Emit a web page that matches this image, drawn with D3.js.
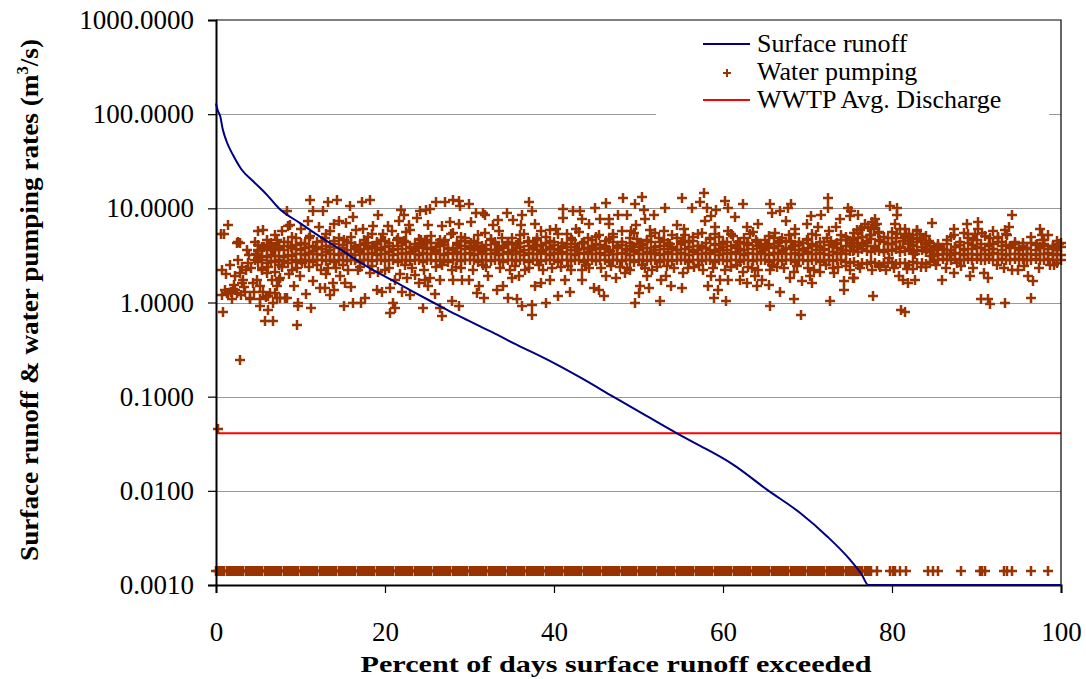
<!DOCTYPE html>
<html><head><meta charset="utf-8">
<script src="https://cdn.jsdelivr.net/npm/d3@7"></script>
<style>
html,body{margin:0;padding:0;background:#fff;}
svg{display:block;}
</style></head>
<body>
<svg id="chart" width="1086" height="679"></svg>
<script>
// ---------- DATA ----------
const xTicks = [0, 20, 40, 60, 80, 100];
const yTicks = [0.001, 0.01, 0.1, 1, 10, 100, 1000];

// Surface runoff flow-duration curve
const runoffPct = [0, 0.2, 0.5, 0.8, 1.3, 2.0, 3.0, 4.4, 6.0, 7.4, 9.9, 11.9, 14.7, 17.8, 21.8, 25.7, 27.5, 29.6, 31.2, 33.6, 35.2, 39.1, 43.1, 47.0, 51.0, 54.5, 57.3, 58.1, 61.2, 65.2, 69.1, 72.3, 75.0, 76.4, 77.2, 100];
const runoffVal = [130, 110, 95, 69, 50, 37, 26, 19.4, 14, 10.1, 7.0, 5.3, 3.66, 2.43, 1.55, 1.0, 0.82, 0.66, 0.56, 0.44, 0.37, 0.25, 0.16, 0.10, 0.062, 0.041, 0.030, 0.0275, 0.019, 0.0103, 0.00585, 0.0033, 0.00187, 0.0013, 0.001, 0.001];

// WWTP average discharge (constant)
const wwtpVal = 0.041;

// Water pumping: days with (near) zero pumping, plotted at the floor value
const pumpLowVal = 0.0014;
const pumpLowPct = [0,0.5,1,1.5,2,2.5,3,3.5,4,4.5,5,5.5,6,6.5,7,7.5,8,8.5,9,9.5,
10,10.5,11,11.5,12,12.5,13,13.5,14,14.5,15,15.5,16,16.5,17,17.5,18,18.5,19,19.5,
20,20.5,21,21.5,22,22.5,23,23.5,24,24.5,25,25.5,26,26.5,27,27.5,28,28.5,29,29.5,
30,30.5,31,31.5,32,32.5,33,33.5,34,34.5,35,35.5,36,36.5,37,37.5,38,38.5,39,39.5,
40,40.5,41,41.5,42,42.5,43,43.5,44,44.5,45,45.5,46,46.5,47,47.5,48,48.5,49,49.5,
50,50.5,51,51.5,52,52.5,53,53.5,54,54.5,55,55.5,56,56.5,57,57.5,58,58.5,59,59.5,
60,60.5,61,61.5,62,62.5,63,63.5,64,64.5,65,65.5,66,66.5,67,67.5,68,68.5,69,69.5,
70,70.5,71,71.5,72,72.5,73,73.5,74,74.5,75,75.5,76,76.5,77,77.5,
78.2,79.8,80.4,81.0,81.7,84.3,85.5,88.2,90.4,91.0,93.2,94.2,96.5,98.5];
const pumpLowPct2 = [0.25,0.75,1.25,1.75,2.25,2.75,3.25,3.75,4.25,4.75,5.25,5.75,6.25,6.75,7.25,7.75,8.25,8.75,9.25,9.75,
10.25,10.75,11.25,11.75,12.25,12.75,13.25,13.75,14.25,14.75,15.25,15.75,16.25,16.75,17.25,17.75,18.25,18.75,19.25,19.75,
20.25,20.75,21.25,21.75,22.25,22.75,23.25,23.75,24.25,24.75,25.25,25.75,26.25,26.75,27.25,27.75,28.25,28.75,29.25,29.75,
30.25,30.75,31.25,31.75,32.25,32.75,33.25,33.75,34.25,34.75,35.25,35.75,36.25,36.75,37.25,37.75,38.25,38.75,39.25,39.75,
40.25,40.75,41.25,41.75,42.25,42.75,43.25,43.75,44.25,44.75,45.25,45.75,46.25,46.75,47.25,47.75,48.25,48.75,49.25,49.75,
50.25,50.75,51.25,51.75,52.25,52.75,53.25,53.75,54.25,54.75,55.25,55.75,56.25,56.75,57.25,57.75,58.25,58.75,59.25,59.75,
60.25,60.75,61.25,61.75,62.25,62.75,63.25,63.75,64.25,64.75,65.25,65.75,66.25,66.75,67.25,67.75,68.25,68.75,69.25,69.75,
70.25,70.75,71.25,71.75,72.25,72.75,73.25,73.75,74.25,74.75,75.25,75.75,76.25,76.75,77.25,
80.1,84.9,90.7,93.6];

// Water pumping: the dense band around 3 m3/s (rows read across the band)
const bandPct = [5,5.5,6,6.5,7,7.5,8,8.5,9,9.5,
10,10.5,11,11.5,12,12.5,13,13.5,14,14.5,15,15.5,16,16.5,17,17.5,18,18.5,19,19.5,
20,20.5,21,21.5,22,22.5,23,23.5,24,24.5,25,25.5,26,26.5,27,27.5,28,28.5,29,29.5,
30,30.5,31,31.5,32,32.5,33,33.5,34,34.5,35,35.5,36,36.5,37,37.5,38,38.5,39,39.5,
40,40.5,41,41.5,42,42.5,43,43.5,44,44.5,45,45.5,46,46.5,47,47.5,48,48.5,49,49.5,
50,50.5,51,51.5,52,52.5,53,53.5,54,54.5,55,55.5,56,56.5,57,57.5,58,58.5,59,59.5,
60,60.5,61,61.5,62,62.5,63,63.5,64,64.5,65,65.5,66,66.5,67,67.5,68,68.5,69,69.5,
70,70.5,71,71.5,72,72.5,73,73.5,74,74.5,75,75.5,76,76.5,77,77.5,78,78.5,79,79.5,
80,80.5,81,81.5,82,82.5,83,83.5,84,84.5,85,85.5,86,86.5,87,87.5,88,88.5,89,89.5,
90,90.5,91,91.5,92,92.5,93,93.5,94,94.5,95,95.5,96,96.5,97,97.5,98,98.5,99,99.5,100];
const bandHi = [3.0,3.1,3.05,3.2,3.1,3.15,3.05,3.2,3.1,3.25,
3.3,3.2,3.35,3.25,3.3,3.2,3.4,3.25,3.3,3.2,
3.35,3.25,3.3,3.2,3.4,3.3,3.25,3.35,3.2,3.3,
3.3,3.4,3.2,3.3,3.35,3.25,3.4,3.3,3.2,3.35,
3.3,3.25,3.4,3.3,3.2,3.35,3.3,3.4,3.25,3.3,
3.35,3.2,3.3,3.4,3.25,3.3,3.35,3.2,3.3,3.4,
3.25,3.3,3.4,3.2,3.35,3.3,3.25,3.4,3.3,3.2,
3.35,3.3,3.4,3.25,3.3,3.2,3.35,3.3,3.4,3.25,
3.3,3.35,3.2,3.4,3.3,3.25,3.35,3.3,3.2,3.4,
3.3,3.25,3.4,3.3,3.35,3.2,3.3,3.4,3.25,3.3,
3.35,3.3,3.2,3.4,3.3,3.25,3.35,3.3,3.4,3.2,
3.3,3.35,3.25,3.4,3.3,3.2,3.35,3.3,3.25,3.4,
3.3,3.2,3.35,3.3,3.4,3.25,3.3,3.35,3.2,3.3,
3.4,3.3,3.25,3.35,3.3,3.2,3.4,3.3,3.35,3.25,
3.5,3.6,3.45,3.7,3.5,3.4,3.6,3.5,3.45,3.6,
3.5,3.7,3.45,3.55,3.6,3.4,3.5,3.65,3.45,3.5,
3.3,3.2,3.25,3.3,3.2,3.35,3.25,3.2,3.3,3.25,
3.2,3.3,3.25,3.2,3.35,3.25,3.3,3.2,3.25,3.3,
3.25,3.2,3.3,3.25,3.2,3.3,3.25,3.35,3.2,3.3,3.2];
const bandLo = [2.7,2.8,2.65,2.75,2.7,2.8,2.75,2.65,2.8,2.7,
2.8,2.75,2.85,2.7,2.8,2.85,2.75,2.8,2.7,2.85,
2.8,2.75,2.85,2.8,2.7,2.85,2.8,2.75,2.85,2.8,
2.75,2.85,2.8,2.7,2.85,2.8,2.75,2.85,2.8,2.7,
2.85,2.8,2.75,2.85,2.8,2.7,2.85,2.8,2.75,2.85,
2.8,2.85,2.7,2.8,2.85,2.75,2.8,2.85,2.7,2.8,
2.85,2.75,2.8,2.85,2.7,2.8,2.85,2.75,2.8,2.85,
2.8,2.7,2.85,2.8,2.75,2.85,2.8,2.7,2.85,2.8,
2.75,2.85,2.8,2.7,2.85,2.8,2.75,2.85,2.8,2.7,
2.85,2.8,2.75,2.85,2.8,2.7,2.85,2.8,2.75,2.85,
2.8,2.85,2.7,2.8,2.85,2.75,2.8,2.85,2.7,2.8,
2.85,2.75,2.8,2.85,2.7,2.8,2.85,2.75,2.8,2.85,
2.8,2.7,2.85,2.8,2.75,2.85,2.8,2.7,2.85,2.8,
2.75,2.85,2.8,2.7,2.85,2.8,2.75,2.85,2.8,2.7,
2.6,2.7,2.5,2.65,2.55,2.7,2.6,2.5,2.65,2.6,
2.7,2.55,2.65,2.6,2.5,2.7,2.6,2.65,2.55,2.7,
2.85,2.8,2.9,2.85,2.8,2.9,2.85,2.8,2.9,2.85,
2.9,2.85,2.8,2.9,2.85,2.8,2.9,2.85,2.8,2.9,
2.85,2.9,2.8,2.85,2.9,2.85,2.8,2.9,2.85,2.8,2.85];
const bandUpper = [4.1,3.7,4.6,3.9,5.2,3.8,4.4,4.0,5.0,3.7,
4.3,3.8,4.9,4.0,3.7,4.5,5.3,3.9,4.2,4.8,
3.8,4.4,5.0,3.7,4.1,4.6,3.9,5.4,4.2,3.8,
4.5,4.0,3.7,4.9,4.3,5.6,3.9,4.2,4.7,3.8,
4.4,5.1,3.9,4.6,4.1,3.7,5.5,4.3,4.0,4.8,
3.8,4.5,5.2,4.0,3.7,4.7,4.2,5.8,3.9,4.4,
4.9,3.8,4.3,5.3,4.0,3.7,4.6,4.1,5.0,3.9,
4.4,5.4,3.8,4.2,4.8,3.9,5.6,4.3,3.7,4.6,
5.0,4.1,3.8,4.7,5.3,4.0,4.4,3.7,4.9,5.5,
4.2,3.8,4.6,5.1,3.9,4.4,5.7,4.0,3.7,4.8,
4.3,5.2,3.9,4.5,4.0,5.5,3.8,4.7,4.2,5.0,
3.9,4.4,5.3,4.1,3.7,4.8,4.3,5.6,4.0,3.8,
4.6,5.1,3.9,4.3,4.9,3.8,4.5,5.4,4.1,3.7,
4.7,4.2,5.2,3.9,4.4,5.8,4.0,3.8,4.6,5.0,
4.3,5.5,4.8,6.2,4.0,5.2,6.6,4.5,5.0,4.2,
5.6,4.4,6.0,4.9,5.3,4.1,5.8,4.6,5.1,4.3,
3.8,4.2,3.7,4.6,5.0,3.9,4.4,3.7,5.3,4.1,
4.6,3.8,5.1,4.2,3.7,4.8,4.0,5.4,3.9,4.4,
3.8,4.3,3.7,5.0,4.1,3.8,4.6,5.2,4.0,3.7,4.3];
const bandUpper2 = [3.5,3.9,3.6,4.3,3.7,4.0,3.6,4.4,3.8,4.1,
3.6,4.2,3.9,3.5,4.4,3.7,4.0,3.6,4.5,3.8,
4.1,3.6,4.3,3.9,3.5,4.2,3.7,4.0,4.4,3.6,
3.9,4.3,3.6,4.0,3.7,4.4,3.8,3.6,4.2,4.0,
3.7,4.3,3.6,4.0,4.4,3.8,3.6,4.1,4.5,3.7,
4.0,3.6,4.3,3.8,4.1,3.6,4.4,3.7,4.0,4.2,
3.6,4.1,3.9,3.6,4.4,3.8,4.0,3.6,4.3,3.7,
4.1,3.6,4.3,3.9,3.6,4.2,3.7,4.4,3.8,3.6,
4.2,3.7,4.0,3.6,4.4,3.8,4.1,3.6,4.3,3.9,
3.6,4.1,3.8,4.4,3.6,4.0,3.7,4.3,3.9,3.6,
4.2,3.7,4.4,3.6,4.0,3.8,4.3,3.6,4.1,3.7,
4.4,3.6,4.0,3.8,4.3,3.6,4.1,3.7,4.4,3.9,
3.6,4.2,3.8,4.0,3.6,4.4,3.7,4.1,3.6,4.3,
3.8,4.0,3.6,4.4,3.7,4.1,3.9,4.3,3.6,4.0,
4.0,4.6,3.9,5.0,4.3,4.7,3.8,5.6,4.4,4.9,
4.2,4.8,3.9,5.1,4.5,4.0,4.7,3.9,4.3,4.0,
3.6,4.0,3.7,4.2,3.6,3.9,4.1,3.6,4.3,3.7,
3.9,4.2,3.6,4.0,3.7,4.4,3.6,4.1,3.8,4.2,
3.6,4.0,3.8,4.3,3.6,3.9,4.2,3.7,4.0,3.6,3.9];

// Water pumping: scattered days [percent, m3/s]
const pumpPts = [
[0.28,0.045],[0.75,2.24],[0.67,1.19],[0.79,0.79],[0.64,5.3],[0.95,5.3],[1.46,6.6],[1.07,1.37],[1.66,2.53],[1.46,1.22],
[2.25,1.37],[2.05,1.4],[2.44,4.3],[2.64,4.34],[2.84,4.3],[2.64,2.86],[3.04,2.4],[2.84,2.07],[3.04,1.6],[2.44,1.25],
[2.84,0.248],[3.23,1.75],[3.63,3.65],[4.02,1.08],[4.02,1.13],[5.0,5.7],[5.6,5.95],[4.61,4.34],[5.0,3.65],[4.61,2.86],
[4.8,1.75],[5.2,1.49],[5.2,0.91],[5.2,1.08],[5.8,0.63],[6.8,0.63],[6.2,1.17],[6.2,0.84],[6.4,1.25],[6.0,2.07],
[6.6,1.75],[7.2,1.13],[7.2,1.5],[7.8,5.7],[8.75,6.7],[8.4,9.3],[7.4,1.75],[8.2,1.13],[7.6,1.13],[8.4,1.13],
[7.6,1.8],[9.75,0.91],[9.55,0.57],[9.94,1.9],[9.7,1.0],[8.5,6.45],[3.4,1.3],[4.2,2.3],[3.8,2.6],[1.2,2.0],
[1.9,1.1],[2.3,1.9],[1.3,1.25],[1.8,1.3],[2.1,1.55],[2.9,1.2],[3.3,1.45],[3.6,2.2],[4.4,1.6],[4.5,1.3],
[5.6,1.3],[5.9,1.15],[6.7,1.0],[7.0,1.25],[5.4,2.2],[6.2,2.4],[7.0,2.1],[7.8,2.4],[8.6,2.0],[9.2,1.5],
[9.6,2.3],[8.9,3.9],[9.5,4.8],[6.3,4.1],[7.2,4.6],[6.8,3.6],[5.7,3.9],[4.7,3.3],[3.9,3.2],
[10.7,1.22],[11.3,0.88],[11.1,12.2],[11.5,9.3],[12.7,9.3],[13.3,11.6],[14.3,12.2],[14.5,7.3],[15.9,10.7],[17.3,11.6],
[18.2,12.2],[19.2,8.6],[12.3,1.44],[12.9,1.44],[11.1,5.05],[13.5,5.7],[12.9,4.9],[15.1,4.66],[14.7,1.9],[15.1,0.91],
[16.2,1.0],[17.2,1.0],[17.6,1.13],[16.6,5.95],[17.4,6.1],[18.6,6.5],[18.2,2.07],[19.0,1.37],[19.6,1.3],[20.6,1.44],
[20.6,0.78],[21.2,0.88],[21.0,1.0],[20.4,6.5],[20.8,5.7],[21.9,9.6],[22.2,8.6],[21.6,7.3],[23.0,5.95],[23.5,1.98],
[24.5,0.88],[24.1,9.3],[24.9,9.6],[21.4,4.66],[22.2,4.5],[21.2,1.75],
[10.5,4.2],[11.8,3.9],[12.4,2.2],[13.0,2.0],[13.8,1.6],[14.2,2.3],[15.6,2.2],[16.4,4.0],[16.9,3.7],[17.8,4.3],
[18.8,3.8],[19.5,4.6],[20.0,2.2],[21.8,2.0],[22.6,1.8],[23.2,2.3],[23.8,3.9],[24.3,4.6],[10.2,2.6],[11.5,1.7],
[12.0,2.5],[13.5,1.2],[14.0,1.35],[15.3,1.6],[16.0,1.45],[17.0,2.4],[19.2,2.1],[22.0,1.3],[23.0,1.2],[24.0,1.6],
[10.0,6.0],[10.9,7.4],[12.2,6.3],[14.0,6.9],[15.4,7.0],[16.2,8.0],[18.0,5.0],[19.8,5.3],[22.8,6.6],[23.8,7.8],
[26.0,11.6],[27.1,11.6],[28.1,12.4],[28.7,12],[28.9,10.7],[29.9,11],[25.3,9.9],[30.8,8.96],[31.8,8.6],[34.4,8.96],
[36.2,8.6],[37.0,11.6],[37.4,9.3],[41.1,9.9],[42.3,9.3],[43.1,9.3],[44.9,10],[46.2,11.3],[48.2,12.9],[50.4,13.3],
[49.6,11],[47.6,8.6],[48.6,8.6],[41.1,7.9],[43.3,7.7],[45.4,7.7],[46.5,7.7],[26.7,6.45],[25.1,6.6],[27.7,7.2],
[28.7,6.9],[30.2,7.2],[31.6,9],[32.8,6.6],[33.4,7.6],[35.1,7.6],[36.1,6.6],[37.7,6.9],[39.5,5.95],[38.5,5.7],
[40.2,6.1],[42.6,6.1],[44.1,6.9],[46.5,6.9],[48.1,5.7],[49.1,5.7],[49.7,6.6],
[26.3,4.3],[27.1,4.66],[29.5,4.5],[30.2,4.3],[31.8,5.5],[33.8,4.9],[34.6,4.2],[35.7,4.3],[36.9,4.5],[37.7,4.0],
[39.5,4.5],[40.9,4.0],[42.1,4.66],[43.3,4.3],[44.5,4.0],[45.3,5.2],[46.1,4.5],[47.6,4.0],[49.2,4.0],[50.3,4.2],
[24.7,4.66],[25.5,3.8],[28.5,3.8],[31.3,3.65],[33.2,3.65],[35.2,3.5],[38.7,3.65],[42.7,3.65],[46.6,3.5],[48.6,3.65],
[27.8,5.3],[29.0,5.0],[32.5,4.6],[36.0,5.2],[38.0,4.8],[41.5,5.4],[44.0,4.8],[47.0,5.0],[49.8,4.7],[30.8,4.0],
[34.0,3.8],[40.0,3.7],[45.0,3.8],
[25.3,1.83],[26.5,1.75],[27.9,2.24],[28.1,1.75],[29.1,1.75],[29.9,1.75],[30.9,1.27],[31.7,1.13],[32.2,1.93],[33.2,1.37],
[34.0,1.49],[34.6,1.13],[35.0,1.83],[35.8,1.93],[35.6,1.08],[36.2,0.91],[37.4,0.95],[37.4,0.745],[37.7,1.49],[38.5,1.6],
[38.7,2.24],[39.5,1.75],[39.1,1.0],[40.5,1.17],[41.3,1.75],[41.9,1.3],[43.3,2.24],[43.3,1.75],[44.7,1.44],[45.3,1.37],
[45.9,1.17],[46.1,1.93],[47.3,1.83],[48.4,2.07],[49.6,1.0],[50.0,1.27],[25.9,1.22],[26.5,0.88],[26.7,0.715],[27.9,1.05],
[28.7,0.91],[24.7,1.75],[25.1,1.49],[31.1,1.49],
[26.0,2.4],[29.0,2.3],[32.0,2.4],[34.8,2.2],[37.0,2.3],[40.8,2.4],[42.0,2.2],[44.2,2.3],[47.8,2.4],[49.0,2.2],
[50.6,9.6],[50.8,7.7],[51.8,8.6],[53.1,10],[55.1,12.9],[56.3,10],[57.3,11.6],[57.7,14.6],[58.1,10],[57.9,7.3],
[59.2,9.6],[60.2,11.9],[60.6,10],[62.4,11.2],[58.6,8.3],[61.4,8],[65.6,11.2],[65.8,9],[66.7,9.3],[67.7,10],
[68.1,11.2],[67.5,7.3],[68.5,6.1],[70.4,8.3],[71.6,8.6],[72.4,12.9],[72.4,10],[73.8,7.7],[74.8,10],[75.0,8.3],
[51.4,5.95],[54.6,6.6],[55.4,6.1],[59.0,6.3],[60.6,5.7],[62.8,6.3],[64.2,6.9],[66.2,5.5],[69.9,6.9],[71.3,6.3],
[73.4,6.3],[75.8,5.95],
[51.0,4.5],[52.4,4.9],[53.7,4.2],[55.3,4.5],[56.5,5.0],[57.5,4.0],[58.5,4.9],[60.0,4.2],[61.2,5.05],[62.8,4.2],
[63.9,4.66],[65.2,4.0],[66.7,4.5],[68.3,4.0],[69.9,4.66],[71.1,4.0],[72.3,4.9],[73.4,4.2],[74.7,4.66],[75.8,4.3],
[51.8,3.6],[54.5,3.6],[57.1,3.6],[59.6,3.6],[62.0,3.6],[64.8,3.6],[67.1,3.6],[69.5,3.6],[71.9,3.6],[74.2,3.6],
[52.0,5.5],[53.0,4.6],[54.0,5.2],[56.0,4.4],[57.0,5.4],[59.0,5.3],[61.8,4.4],[63.2,5.3],[64.5,4.2],[66.0,4.8],
[67.8,5.2],[69.0,4.4],[70.5,5.3],[72.8,4.5],[74.0,5.2],[75.3,4.0],
[50.2,1.49],[51.2,1.44],[51.0,1.9],[52.6,1.03],[52.7,1.75],[53.3,1.9],[53.9,1.49],[55.1,1.44],[55.3,2.07],[58.2,1.49],
[58.6,1.9],[58.9,1.13],[59.4,1.37],[59.6,1.75],[60.4,1.03],[60.6,1.75],[62.0,1.75],[62.4,2.13],[62.8,1.6],[63.8,1.9],
[64.0,1.49],[64.6,1.75],[65.4,1.55],[65.6,2.24],[65.6,0.91],[66.7,1.3],[67.9,1.83],[68.4,1.08],[68.4,2.13],[69.2,0.745],
[69.4,1.7],[70.3,1.9],[70.5,1.6],[71.5,2.13],[72.7,1.05],[73.1,2.07],[74.3,1.37],[74.3,1.7],[75.5,1.83],
[50.8,2.3],[52.2,2.4],[54.2,2.3],[56.6,2.4],[57.6,2.2],[61.0,2.4],[63.4,2.3],[66.4,2.4],[70.0,2.3],[73.6,2.4],[75.0,2.2],
[75.2,9.3],[76.0,8.6],[79.8,10.7],[80.6,10],[80.6,8.6],[80.4,6.9],[84.7,7.0],[87.3,6.1],[87.3,5.2],[88.9,6.9],
[90.2,7.2],[90.2,6.0],[89.6,4.66],[92.0,5.7],[93.4,5.95],[93.8,6.3],[94.2,8.6],[92.0,4.2],[97.5,6.1],[97.7,5.2],
[97.9,4.66],[99.5,4.5],
[77.6,7.2],[78.0,7.7],[78.2,6.9],[77.2,6.4],[76.2,5.95],[75.4,4.9],[75.8,4.0],[75.4,3.5],[76.6,4.2],[77.4,5.2],
[78.6,4.66],[79.0,3.6],[79.6,3.0],[80.6,5.4],[81.3,4.5],[81.9,4.2],[82.5,5.2],[82.9,5.95],[83.3,5.4],[83.5,4.9],
[83.9,4.2],[84.1,3.7],[81.7,5.4],[82.1,3.7],[82.7,3.3],[84.7,3.1],[85.3,3.8],[86.1,3.6],[86.9,3.3],
[76.8,6.8],[77.9,6.0],[78.4,5.5],[76.4,5.0],[77.0,4.5],[78.0,4.0],[80.0,4.2],[80.9,3.8],[81.5,6.0],[82.2,4.8],
[83.0,4.4],[84.4,4.5],[88.5,5.5],[89.0,4.9],[89.8,5.3],[90.6,5.5],[91.6,4.8],[92.6,5.0],[93.0,4.4],[93.6,5.2],
[94.0,4.0],[97.2,4.2],[98.0,4.0],[99.0,3.8],[99.8,4.2],
[75.4,1.8],[77.8,1.17],[79.1,2.6],[79.3,2.2],[80.8,1.9],[81.3,1.75],[81.9,1.6],[82.5,2.25],[82.7,1.75],[81.1,0.84],
[81.5,0.8],[85.9,1.75],[87.3,2.07],[87.7,2.6],[89.2,1.93],[90.9,2.07],[91.4,1.83],[90.5,1.08],[91.4,1.08],[91.6,0.96],
[93.4,1.0],[94.2,2.24],[94.9,2.24],[96.1,1.9],[96.7,1.7],[96.4,1.13],[98.7,2.5],[99.5,2.6],[84.0,2.4],[78.6,2.4],
[5.5,2.3],[7.5,2.5],[9.0,2.2],[11,2.4],[13.2,2.3],[15,2.5],[16.8,2.2],[18.5,2.45],[20.5,2.3],[22.4,2.5],
[24.6,2.2],[26.8,2.5],[28.4,2.4],[30.4,2.2],[31.6,2.5],[33.6,2.3],[35.4,2.45],[36.6,2.2],[38.2,2.5],[39.8,2.3],
[41.6,2.45],[43.8,2.5],[45.6,2.3],[46.8,2.45],[48.6,2.3],[50.4,2.5],[51.6,2.2],[53.4,2.45],[55.8,2.3],[57.2,2.5],
[58.8,2.3],[60.2,2.2],[61.6,2.5],[63.0,2.4],[64.2,2.2],[65.8,2.5],[67.2,2.3],[68.8,2.45],[70.8,2.2],[72.2,2.5],
[73.0,2.3],[74.6,2.45],[76.2,2.3],[77.6,2.2],[80.2,2.35],[81.8,2.25],[83.4,2.4],[85.2,2.5],[86.4,2.35],[88.2,2.45],
[89.6,2.3],[92.4,2.5],[93.2,2.35],[95.6,2.45],[97.4,2.3],[99.2,2.5]
];

const legendLabels = ["Surface runoff", "Water pumping", "WWTP Avg. Discharge"];
const xTitle = "Percent of days surface runoff exceeded";

// ---------- DRAWING ----------
const FONT = "'Liberation Serif'";
const svg = d3.select("#chart");
const M = {left: 216, right: 1061, top: 20, bottom: 585};
const x = d3.scaleLinear().domain([0, 100]).range([M.left, M.right]);
const y = d3.scaleLog().domain([0.001, 1000]).range([M.bottom, M.top]);

svg.append("rect").attr("width", 1086).attr("height", 679).attr("fill", "#fff");

// gridlines
svg.append("g").selectAll("line").data(yTicks.filter(v => v > 0.001 && v < 1000)).join("line")
  .attr("x1", M.left).attr("x2", M.right)
  .attr("y1", d => Math.round(y(d)) + 0.5).attr("y2", d => Math.round(y(d)) + 0.5)
  .attr("stroke", "#999").attr("stroke-width", 1);

// legend background (covers gridline)
svg.append("rect").attr("x", 656).attr("y", 21).attr("width", 393).attr("height", 97).attr("fill", "#fff");

// WWTP line
svg.append("line").attr("x1", x(0)).attr("x2", x(100))
  .attr("y1", y(wwtpVal)).attr("y2", y(wwtpVal))
  .attr("stroke", "#ff0000").attr("stroke-width", 2);

// pumping markers
const cross = "M-5,0H5M0,-5V5";
const brown = "#993300";
const allPts = pumpLowPct.concat(pumpLowPct2).map(p => [p, pumpLowVal])
  .concat(bandPct.map((p, i) => [p, bandHi[i]]))
  .concat(bandPct.map((p, i) => [p, bandLo[i]]))
  .concat(bandPct.map((p, i) => [p, bandUpper[i]]))
  .concat(bandPct.map((p, i) => [p, bandUpper2[i]]))
  .concat(pumpPts);
svg.append("g").selectAll("path").data(allPts).join("path")
  .attr("d", cross)
  .attr("transform", d => `translate(${Math.round(x(d[0]))},${Math.round(y(d[1]))})`)
  .attr("stroke", brown).attr("stroke-width", 2.5).attr("fill", "none");

// runoff line
const line = d3.line().x((d, i) => x(runoffPct[i])).y(d => y(d)).curve(d3.curveMonotoneX);

// plot border (top/right)
svg.append("path").attr("d", `M${M.left},${M.top}H${M.right}V${M.bottom}`)
  .attr("fill", "none").attr("stroke", "#000").attr("stroke-width", 1.2);

// axes
const yAxis = d3.axisLeft(y).tickValues(yTicks).tickFormat(d3.format(".4f")).tickSize(8).tickPadding(14);
const gy = svg.append("g").attr("transform", `translate(${M.left},0)`).call(yAxis);
gy.attr("font-family", null);
gy.select(".domain").attr("stroke", "#000").attr("stroke-width", 2);
gy.selectAll(".tick line").attr("stroke", "#000").attr("stroke-width", 1.2);
gy.selectAll(".tick text").attr("font-size", 27).style("font-family", FONT).attr("fill", "#000");

const xAxis = d3.axisBottom(x).tickValues(xTicks).tickFormat(d3.format("d")).tickSize(8).tickPadding(29);
const gx = svg.append("g").attr("transform", `translate(0,${M.bottom})`).call(xAxis);
gx.attr("font-family", null);
gx.select(".domain").attr("stroke", "#000").attr("stroke-width", 2);
gx.selectAll(".tick line").attr("stroke", "#000").attr("stroke-width", 1.2);
gx.selectAll(".tick text").attr("font-size", 27).style("font-family", FONT).attr("fill", "#000");

// runoff curve drawn on top (flat part lies over the axis)
svg.append("path").datum(runoffVal).attr("d", line)
  .attr("fill", "none").attr("stroke", "#000080").attr("stroke-width", 2);

// axis titles
svg.append("text").attr("x", 616).attr("y", 672).attr("text-anchor", "middle")
  .attr("font-size", 24).attr("font-weight", "bold").style("font-family", FONT)
  .attr("textLength", 511).attr("lengthAdjust", "spacingAndGlyphs")
  .text(xTitle);

const yl = svg.append("text").attr("transform", "translate(38,300) rotate(-90)")
  .attr("text-anchor", "middle").attr("font-size", 26).attr("font-weight", "bold").style("font-family", FONT)
  .attr("textLength", 522).attr("lengthAdjust", "spacingAndGlyphs");
yl.append("tspan").text("Surface runoff & water pumping rates (m");
yl.append("tspan").attr("dy", -10).attr("font-size", 16).text("3");
yl.append("tspan").attr("dy", 10).text("/s)");

// legend
const lg = svg.append("g");
const ly = [44, 72, 100];
lg.append("line").attr("x1", 703).attr("x2", 750).attr("y1", ly[0]).attr("y2", ly[0]).attr("stroke", "#000080").attr("stroke-width", 2);
lg.append("path").attr("d", "M-4,0H4M0,-4V4").attr("transform", `translate(727,${ly[1] + 1})`).attr("stroke", brown).attr("stroke-width", 2);
lg.append("line").attr("x1", 703).attr("x2", 750).attr("y1", ly[2]).attr("y2", ly[2]).attr("stroke", "#ff0000").attr("stroke-width", 2);
lg.selectAll("text").data(legendLabels).join("text")
  .attr("x", 757).attr("y", (d, i) => ly[i] + 8)
  .attr("font-size", 26).style("font-family", FONT).attr("fill", "#000").text(d => d);
</script>
</body></html>
